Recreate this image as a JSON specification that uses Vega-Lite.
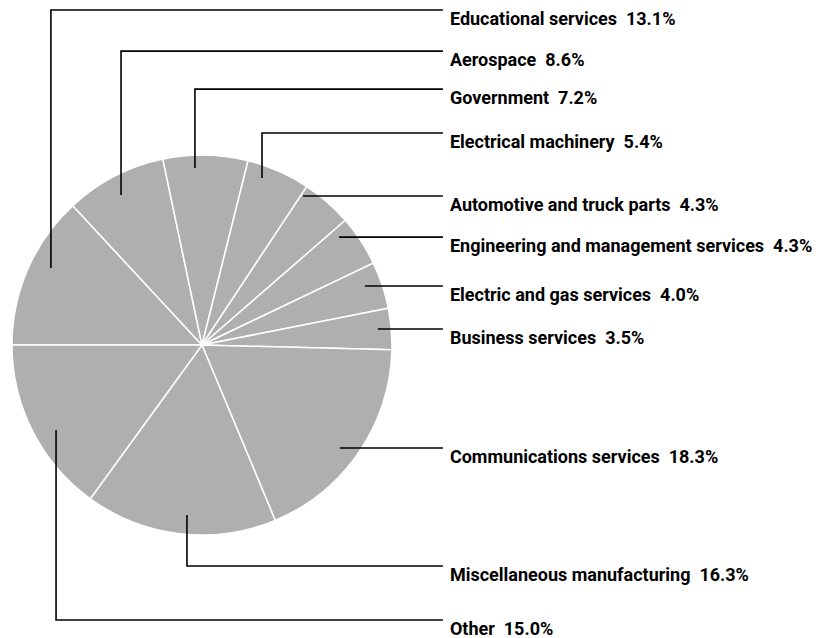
{
  "$schema": "https://vega.github.io/schema/vega-lite/v6.json",
  "width": 821,
  "height": 638,
  "autosize": "none",
  "padding": 0,
  "background": "white",
  "config": {"view": {"stroke": null}},
  "datasets": {
    "slices": [
      {"rank": 1, "industry": "Educational services", "share": 13.1},
      {"rank": 2, "industry": "Aerospace", "share": 8.6},
      {"rank": 3, "industry": "Government", "share": 7.2},
      {"rank": 4, "industry": "Electrical machinery", "share": 5.4},
      {"rank": 5, "industry": "Automotive and truck parts", "share": 4.3},
      {"rank": 6, "industry": "Engineering and management services", "share": 4.3},
      {"rank": 7, "industry": "Electric and gas services", "share": 4.0},
      {"rank": 8, "industry": "Business services", "share": 3.5},
      {"rank": 9, "industry": "Communications services", "share": 18.3},
      {"rank": 10, "industry": "Miscellaneous manufacturing", "share": 16.3},
      {"rank": 11, "industry": "Other", "share": 15.0}
    ],
    "leaders": [
      {"industry": "Educational services", "seq": 1, "u": -79.5, "v": 40.5},
      {"industry": "Educational services", "seq": 2, "u": -79.5, "v": 176.3},
      {"industry": "Educational services", "seq": 3, "u": 126.8, "v": 176.3},
      {"industry": "Aerospace", "seq": 1, "u": -42.6, "v": 78.9},
      {"industry": "Aerospace", "seq": 2, "u": -42.6, "v": 154.7},
      {"industry": "Aerospace", "seq": 3, "u": 126.8, "v": 154.7},
      {"industry": "Government", "seq": 1, "u": -3.7, "v": 93.2},
      {"industry": "Government", "seq": 2, "u": -3.7, "v": 134.7},
      {"industry": "Government", "seq": 3, "u": 126.8, "v": 134.7},
      {"industry": "Electrical machinery", "seq": 1, "u": 31.6, "v": 87.9},
      {"industry": "Electrical machinery", "seq": 2, "u": 31.6, "v": 111.6},
      {"industry": "Electrical machinery", "seq": 3, "u": 126.8, "v": 111.6},
      {"industry": "Automotive and truck parts", "seq": 1, "u": 53.2, "v": 78.4},
      {"industry": "Automotive and truck parts", "seq": 2, "u": 126.8, "v": 78.4},
      {"industry": "Engineering and management services", "seq": 1, "u": 72.1, "v": 56.8},
      {"industry": "Engineering and management services", "seq": 2, "u": 126.8, "v": 56.8},
      {"industry": "Electric and gas services", "seq": 1, "u": 85.8, "v": 31.1},
      {"industry": "Electric and gas services", "seq": 2, "u": 126.8, "v": 31.1},
      {"industry": "Business services", "seq": 1, "u": 92.6, "v": 8.4},
      {"industry": "Business services", "seq": 2, "u": 126.8, "v": 8.4},
      {"industry": "Communications services", "seq": 1, "u": 72.6, "v": -54.2},
      {"industry": "Communications services", "seq": 2, "u": 126.8, "v": -54.2},
      {"industry": "Miscellaneous manufacturing", "seq": 1, "u": -7.9, "v": -89.5},
      {"industry": "Miscellaneous manufacturing", "seq": 2, "u": -7.9, "v": -116.3},
      {"industry": "Miscellaneous manufacturing", "seq": 3, "u": 126.8, "v": -116.3},
      {"industry": "Other", "seq": 1, "u": -76.8, "v": -44.7},
      {"industry": "Other", "seq": 2, "u": -76.8, "v": -144.7},
      {"industry": "Other", "seq": 3, "u": 126.8, "v": -144.7}
    ],
    "labels": [
      {"text": "Educational services\u00a0\u00a013.1%", "v": 176.3},
      {"text": "Aerospace\u00a0\u00a08.6%", "v": 154.7},
      {"text": "Government\u00a0\u00a07.2%", "v": 134.7},
      {"text": "Electrical machinery\u00a0\u00a05.4%", "v": 111.6},
      {"text": "Automotive and truck parts\u00a0\u00a04.3%", "v": 78.4},
      {"text": "Engineering and management services\u00a0\u00a04.3%", "v": 56.8},
      {"text": "Electric and gas services\u00a0\u00a04.0%", "v": 31.1},
      {"text": "Business services\u00a0\u00a03.5%", "v": 8.4},
      {"text": "Communications services\u00a0\u00a018.3%", "v": -54.2},
      {"text": "Miscellaneous manufacturing\u00a0\u00a016.3%", "v": -116.3},
      {"text": "Other\u00a0\u00a015.0%", "v": -144.7}
    ]
  },
  "layer": [
    {
      "data": {"name": "slices"},
      "mark": {"type": "arc", "outerRadius": 190, "fill": "#afafaf", "stroke": "white", "strokeWidth": 1.5},
      "encoding": {
        "theta": {"field": "share", "type": "quantitative", "stack": true, "scale": {"range": [4.71238898, 10.99557429]}},
        "order": {"field": "rank", "type": "quantitative"},
        "x": {"datum": 0, "type": "quantitative", "scale": {"domain": [-106.3, 325.8], "nice": false, "zero": false}, "axis": null},
        "y": {"datum": 0, "type": "quantitative", "scale": {"domain": [-154.2, 181.6], "nice": false, "zero": false}, "axis": null}
      }
    },
    {
      "data": {"name": "leaders"},
      "mark": {"type": "line", "stroke": "black", "strokeWidth": 1.6, "interpolate": "linear"},
      "encoding": {
        "x": {"field": "u", "type": "quantitative", "axis": null},
        "y": {"field": "v", "type": "quantitative", "axis": null},
        "detail": {"field": "industry"},
        "order": {"field": "seq", "type": "quantitative"}
      }
    },
    {
      "data": {"name": "labels"},
      "mark": {"type": "text", "align": "left", "baseline": "alphabetic", "dy": 15, "font": "Roboto", "fontWeight": "bold", "fontSize": 18, "fill": "black"},
      "encoding": {
        "x": {"datum": 130.5, "type": "quantitative", "axis": null},
        "y": {"field": "v", "type": "quantitative", "axis": null},
        "text": {"field": "text"}
      }
    }
  ]
}
